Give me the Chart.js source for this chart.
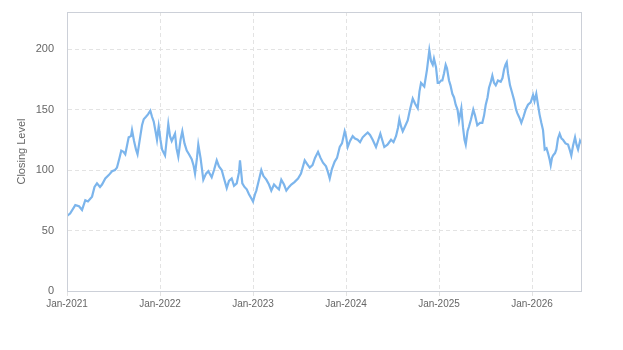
<!DOCTYPE html>
<html>
<head>
<meta charset="utf-8">
<script src="https://cdn.jsdelivr.net/npm/chart.js@4/dist/chart.umd.min.js"></script>
<style>
html,body{margin:0;padding:0;background:#fff;}
#wrap{width:623px;height:350px;position:relative;}
</style>
</head>
<body>
<div id="wrap"><canvas id="c" width="623" height="350"></canvas></div>
<script>
// months since Jan-2021
const months = [0,0.4,1.07,1.55,1.94,2.36,2.7,3.23,3.55,3.87,4.26,4.52,4.94,5.42,5.81,6.19,6.45,6.77,7.0,7.29,7.52,7.74,7.96,8.26,8.39,8.65,8.9,9.1,9.46,9.68,9.9,10.19,10.45,10.75,10.97,11.19,11.42,11.61,11.83,12.06,12.26,12.65,13.07,13.29,13.51,13.94,14.13,14.36,14.65,14.88,15.16,15.45,15.74,16.09,16.32,16.52,16.77,16.94,17.23,17.59,17.94,18.23,18.67,18.97,19.32,19.61,19.96,20.26,20.61,20.9,21.25,21.55,21.9,22.19,22.32,22.62,22.9,23.19,23.48,23.83,24.0,24.26,24.43,24.77,25.07,25.35,25.72,26.06,26.36,26.71,27.01,27.35,27.65,28.0,28.3,28.65,28.94,29.35,29.81,30.19,30.67,30.97,31.32,31.68,32.0,32.39,32.71,33.03,33.42,33.68,33.9,34.19,34.54,34.84,35.19,35.48,35.83,36.0,36.22,36.52,36.86,37.16,37.5,37.81,38.15,38.45,38.8,39.1,39.44,39.87,40.13,40.43,40.71,40.94,41.35,41.81,42.13,42.45,42.71,42.88,43.1,43.32,43.61,43.96,44.26,44.61,44.9,45.25,45.48,45.68,46.1,46.45,46.75,46.97,47.19,47.35,47.61,47.83,48.0,48.26,48.43,48.65,48.86,49.03,49.29,49.48,49.72,49.94,50.15,50.39,50.58,50.88,51.1,51.29,51.45,51.68,51.87,52.13,52.42,52.65,52.94,53.29,53.59,53.81,54.03,54.26,54.45,54.65,54.88,55.1,55.32,55.61,55.96,56.19,56.39,56.58,56.74,56.9,57.16,57.42,57.68,57.94,58.1,58.39,58.62,58.9,59.19,59.48,59.83,60.13,60.32,60.55,60.77,60.97,61.2,61.42,61.64,61.87,62.06,62.26,62.41,62.58,62.71,62.97,63.14,63.35,63.57,63.81,64.0,64.32,64.65,64.9,65.07,65.29,65.55,65.74,65.94,66.19,66.32];
const closing = [62,64,71,70,67,75,74,78,86,89,86,88,93,96,99,100,102,110,116,115,113,120,127,128,133,124,117,113,128,137,142,144,146,149,144,140,132,125,136,125,117,112,138,128,124,130,118,111,125,132,122,116,113,109,104,97,110,121,110,92,97,99,94,100,108,103,100,93,85,91,93,87,89,98,108,89,86,84,80,76,74,80,83,92,100,95,92,88,83,88,86,84,92,88,83,86,88,90,93,97,108,105,102,104,110,115,110,106,103,98,93,101,107,110,119,122,132,128,119,124,128,126,125,123,127,129,131,129,125,119,124,130,124,119,121,125,123,128,135,142,136,132,136,141,150,159,155,151,165,172,169,183,199,190,187,192,185,172,172,174,174,180,187,184,174,170,163,160,154,150,141,151,135,125,121,132,136,142,150,145,137,139,139,145,154,160,168,172,178,172,170,174,173,176,183,187,189,180,170,164,158,150,147,143,139,144,150,154,156,162,157,163,154,146,139,133,117,118,114,109,104,110,112,114,117,126,130,126,125,122,121,116,112,120,127,121,117,124,122];
const xTickMonths = [0,12,24,36,48,60];
const xTickLabels = ['Jan-2021','Jan-2022','Jan-2023','Jan-2024','Jan-2025','Jan-2026'];
const yTicks = [0,50,100,150,200];

const points = months.map((m,i)=>({x:m,y:closing[i]}));

const borderPlugin = {
  id:'frame',
  afterDraw(chart){
    const a = chart.chartArea, ctx = chart.ctx;
    ctx.save();
    ctx.strokeStyle = '#ccd0d8';
    ctx.lineWidth = 1;
    ctx.strokeRect(Math.round(a.left)+0.5, Math.round(a.top)+0.5, Math.round(a.right-a.left), Math.round(a.bottom-a.top));
    ctx.restore();
  }
};

new Chart(document.getElementById('c'), {
  type:'line',
  data:{datasets:[{
    data:points,
    borderColor:'#7cb5ec',
    borderWidth:2.2,
    pointRadius:0,
    tension:0,
    fill:false
  }]},
  options:{
    responsive:false,
    animation:false,
    layout:{padding:{left:15,top:12,right:42,bottom:34}},
    plugins:{legend:{display:false},tooltip:{enabled:false}},
    scales:{
      x:{
        type:'linear',
        min:0,max:66.32,
        afterBuildTicks(s){ s.ticks = xTickMonths.map(v=>({value:v})); },
        afterFit(s){ s.height = 25; s.paddingLeft = 0; s.paddingRight = 0; },
        ticks:{
          autoSkip:false,maxRotation:0,
          padding:2,
          color:'#666',
          font:{family:'"Liberation Sans Narrow","Liberation Sans",Arial',size:10},
          callback(v){ const i = xTickMonths.indexOf(v); return i>=0 ? xTickLabels[i] : ''; }
        },
        grid:{color:'#e3e3e3',tickLength:5,drawTicks:true,tickColor:'#e3e3e3'},
        border:{display:true,color:'#ccd0d8',dash:[4,3]}
      },
      y:{
        min:0,max:230.6,
        afterBuildTicks(s){ s.ticks = yTicks.map(v=>({value:v})); },
        afterFit(s){ s.width = 52; s.paddingTop = 0; s.paddingBottom = 0; },
        ticks:{
          padding:13,
          color:'#666',
          font:{family:'"Liberation Sans",Arial',size:11}
        },
        title:{display:true,text:'Closing Level',color:'#666',font:{family:'"Liberation Sans",Arial',size:11},padding:{top:0,bottom:0}},
        grid:{color:'#e3e3e3',drawTicks:false},
        border:{display:true,color:'#ccd0d8',dash:[4,3]}
      }
    }
  },
  plugins:[borderPlugin]
});
</script>
</body>
</html>
